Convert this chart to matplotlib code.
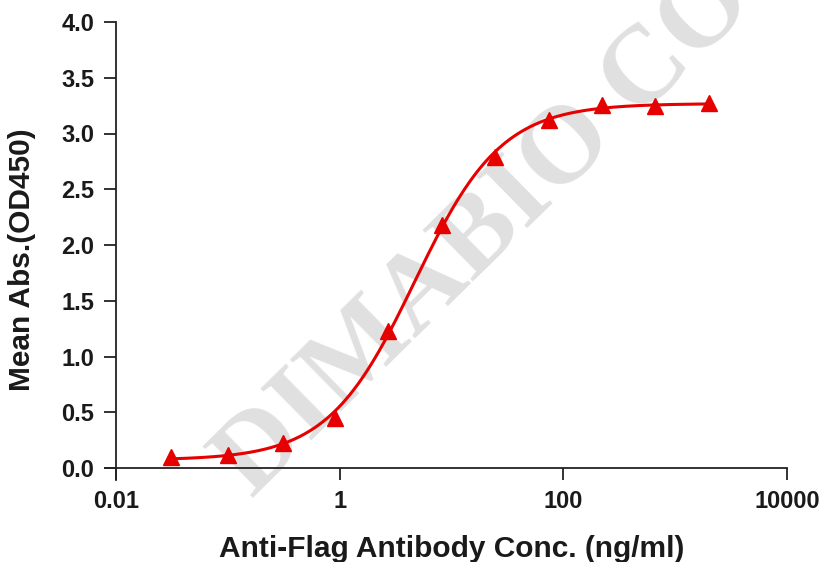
import numpy as np
import matplotlib
matplotlib.use('Agg')
import matplotlib.pyplot as plt
from matplotlib.ticker import FixedLocator, NullLocator, FixedFormatter

# Data
conc = [0.031, 0.10, 0.31, 0.91, 2.7, 8.2, 24.7, 74.0, 222.0, 667.0, 2000.0]   # ng/ml
od450 = [0.10, 0.12, 0.22, 0.45, 1.23, 2.18, 2.79, 3.12, 3.26, 3.25, 3.27]

x_ticks = [0.01, 1, 100, 10000]
x_labels = ['0.01', '1', '100', '10000']
y_ticks = [0.0, 0.5, 1.0, 1.5, 2.0, 2.5, 3.0, 3.5, 4.0]
y_labels = ['0.0', '0.5', '1.0', '1.5', '2.0', '2.5', '3.0', '3.5', '4.0']

xdata = np.array(conc)
ydata = np.array(od450)

# 4-parameter logistic fit: grid over EC50 / hill, linear lsq for bottom / top
best = None
for logec in np.linspace(-1, 2, 301):
    for hill in np.linspace(0.5, 2.5, 201):
        g = 1.0 / (1.0 + (10**logec / xdata)**hill)
        A = np.column_stack([1 - g, g])
        coef, res, rk, sv = np.linalg.lstsq(A, ydata, rcond=None)
        err = np.sum((A @ coef - ydata)**2)
        if best is None or err < best[0]:
            best = (err, logec, hill, coef[0], coef[1])
err, logec, hill, bottom, top = best

xfit = np.logspace(np.log10(xdata.min()), np.log10(xdata.max()), 400)
yfit = bottom + (top - bottom) / (1.0 + (10**logec / xfit)**hill)

plt.rcParams['font.family'] = ['Liberation Sans', 'DejaVu Sans']

fig = plt.figure(figsize=(8.26, 5.62), dpi=100)
ax = fig.add_axes([116/826, 1 - 468/562, (787 - 116)/826, (468 - 22)/562])

# watermark, kept under the curve
ax.text(252/826, 1 - 499/562, 'DIMABIO CO., LTD', transform=fig.transFigure,
        rotation=44.5, rotation_mode='anchor', ha='left', va='baseline',
        fontsize=80, fontweight='bold', family='Liberation Serif',
        color='#e0e0e0', zorder=0, clip_on=False)

red = '#e60000'
ax.plot(xfit, yfit, color=red, lw=2.2, zorder=3)
ax.plot(xdata, ydata, '^', color=red, ms=12, mec=red, zorder=4, clip_on=False)

ax.set_xscale('log')
ax.set_xlim(0.01, 10000)
ax.set_ylim(0, 4)
ax.xaxis.set_major_locator(FixedLocator(x_ticks))
ax.xaxis.set_major_formatter(FixedFormatter(x_labels))
ax.xaxis.set_minor_locator(NullLocator())
ax.yaxis.set_major_locator(FixedLocator(y_ticks))
ax.yaxis.set_major_formatter(FixedFormatter(y_labels))

for side in ['top', 'right']:
    ax.spines[side].set_visible(False)
axcol = '#222222'
ax.spines['left'].set_color(axcol)
ax.spines['bottom'].set_color(axcol)
ax.spines['left'].set_linewidth(1.3)
ax.spines['bottom'].set_linewidth(1.3)
# spines run past the crossing like the original
ax.spines['bottom'].set_bounds(10**-2.1, 10000)
ax.spines['left'].set_bounds(-0.11, 4)

ax.tick_params(axis='both', direction='out', length=8.6, width=1.3, color=axcol,
               labelsize=17, labelcolor='#1a1a1a', pad=7)
for lab in ax.get_xticklabels() + ax.get_yticklabels():
    lab.set_fontweight('bold')

ax.set_xlabel('Anti-Flag Antibody Conc. (ng/ml)', fontsize=21.5, fontweight='bold',
              color='#1a1a1a', labelpad=16)
ax.set_ylabel('Mean Abs.(OD450)', fontsize=21.5, fontweight='bold', color='#1a1a1a')
ax.yaxis.set_label_coords(-0.119, 0.466)

fig.savefig('out.png', dpi=100)
